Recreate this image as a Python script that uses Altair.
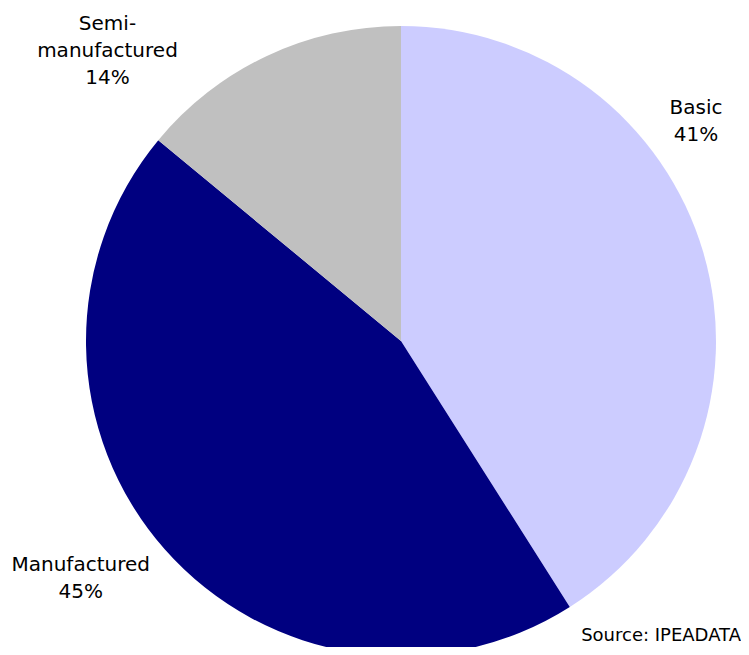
import altair as alt
import pandas as pd

categories = ["Basic", "Manufactured", "Semi-manufactured"]
shares = [41, 45, 14]
label_texts = ["Basic\n41%", "Manufactured\n45%", "Semi-\nmanufactured\n14%"]
colors = ["#CCCCFF", "#000080", "#C0C0C0"]

# label placement (polar, around pie centre, first text line):
# angle in degrees clockwise from top, distance in px
label_angle = [51.7, 235.0, 317.2]
label_dist = [376, 391, 432]

CX, CY, R = 393, 333, 315
FONT = "DejaVu Sans"

df = pd.DataFrame({"cat": categories, "share": shares, "order": [0, 1, 2]})
lab = pd.DataFrame({
    "cat": categories,
    "text": label_texts,
    "ang": label_angle,
    "dist": label_dist,
})

pie = alt.Chart(df).mark_arc(radius=R, strokeWidth=0).encode(
    theta=alt.Theta("share:Q", stack=True),
    order=alt.Order("order:Q"),
    color=alt.Color("cat:N", scale=alt.Scale(domain=categories, range=colors), legend=None),
    x=alt.value(CX),
    y=alt.value(CY),
)

labels = alt.Chart(lab).transform_calculate(
    rad="datum.ang * PI / 180"
).mark_text(
    font=FONT, fontSize=20, lineBreak="\n", lineHeight=27,
    align="center", baseline="middle", color="black"
).encode(
    theta=alt.Theta("rad:Q", scale=None, stack=False),
    radius=alt.Radius("dist:Q", scale=None),
    text="text:N",
    x=alt.value(CX),
    y=alt.value(CY),
)

source = alt.Chart(pd.DataFrame({"t": ["Source: IPEADATA"]})).mark_text(
    font=FONT, fontSize=18, align="right", baseline="alphabetic", color="black"
).encode(
    text="t:N",
    x=alt.value(733),
    y=alt.value(633),
)

chart = alt.layer(pie, labels, source).properties(
    width=733, height=639, padding=0,
    autosize=alt.AutoSizeParams(type="none"),
).configure_view(stroke="transparent", strokeWidth=0, strokeOpacity=0)

chart.save("out.html", embed_options={"renderer": "svg", "actions": False})
